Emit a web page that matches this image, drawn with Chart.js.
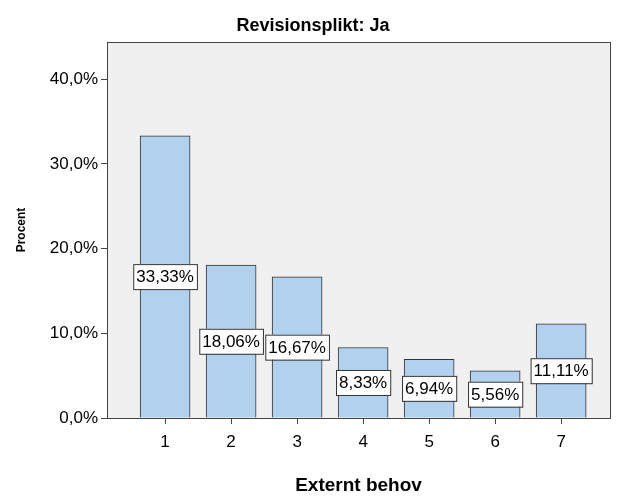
<!DOCTYPE html>
<html><head><meta charset="utf-8">
<script src="https://cdn.jsdelivr.net/npm/chart.js@4"></script>
<style>body{margin:0;background:#fff}#wrap{width:626px;height:501px}</style>
</head><body><div id="wrap"><canvas id="c"></canvas></div>
<script>
const categories = [1, 2, 3, 4, 5, 6, 7];
const percents = [33.33, 18.06, 16.67, 8.33, 6.94, 5.56, 11.11];
const yTicks = [0, 10, 20, 30, 40];

const fmt = v => v.toFixed(2).replace('.', ',') + '%';

const plotBg = {
    id: 'plotBg',
    beforeDraw(chart) {
        const { ctx, chartArea: a } = chart;
        ctx.save();
        ctx.fillStyle = '#f0f0f0';
        ctx.fillRect(a.left, a.top, a.right - a.left, a.bottom - a.top);
        ctx.restore();
    },
    afterDraw(chart) {
        const { ctx, chartArea: a } = chart;
        ctx.save();
        ctx.strokeStyle = '#444';
        ctx.lineWidth = 1;
        ctx.strokeRect(a.left + 0.5, a.top + 0.5, a.right - a.left, a.bottom - a.top);
        ctx.fillStyle = '#000';
        ctx.font = 'bold 18px Arial, "Liberation Sans", sans-serif';
        ctx.textAlign = 'center';
        ctx.textBaseline = 'middle';
        ctx.fillText('Revisionsplikt: Ja', 313, 26);
        // value labels
        ctx.font = '17px Arial, "Liberation Sans", sans-serif';
        chart.getDatasetMeta(0).data.forEach((bar, i) => {
            const txt = fmt(percents[i]);
            const w = ctx.measureText(txt).width + 6;
            const h = 25;
            const y = (bar.y + bar.base) / 2;
            ctx.fillStyle = '#fff';
            ctx.fillRect(bar.x - w / 2, y - h / 2, w, h);
            ctx.strokeStyle = '#333';
            ctx.strokeRect(bar.x - w / 2 + 0.5, y - h / 2 + 0.5, w, h);
            ctx.fillStyle = '#000';
            ctx.fillText(txt, bar.x, y + 1);
        });
        ctx.restore();
    }
};

new Chart(document.getElementById('c'), {
    type: 'bar',
    data: {
        datasets: [{
            data: categories.map((c, i) => ({ x: c, y: percents[i] })),
            backgroundColor: '#b1d1ee',
            borderColor: '#333',
            borderWidth: 1,
            barThickness: 50
        }]
    },
    options: {
        responsive: true,
        maintainAspectRatio: false,
        animation: false,
        layout: { padding: { top: 42, right: 16, left: 0, bottom: 0 } },
        plugins: { legend: { display: false }, tooltip: { enabled: false } },
        scales: {
            x: {
                type: 'linear',
                offset: false,
                min: 0.12, max: 7.74,
                afterBuildTicks: s => { s.ticks = categories.map(v => ({ value: v })); },
                afterFit: s => { s.height = 83; },
                grid: { display: true, drawOnChartArea: false, drawTicks: true, tickLength: 6, color: '#444', offset: false },
                border: { display: false },
                ticks: { color: '#000', padding: 8, font: { size: 17, family: 'Arial, "Liberation Sans"' }, callback: v => v },
                title: { display: true, text: 'Externt behov', color: '#000', font: { size: 19, weight: 'bold', family: 'Arial, "Liberation Sans"' }, padding: { top: 4 } }
            },
            y: {
                min: 0, max: 44.4,
                afterBuildTicks: s => { s.ticks = yTicks.map(v => ({ value: v })); },
                afterFit: s => { s.width = 107; },
                grid: { display: true, drawOnChartArea: false, drawTicks: true, tickLength: 6, color: '#444' },
                border: { display: false },
                ticks: { color: '#000', padding: 3, font: { size: 17, family: 'Arial, "Liberation Sans"' }, callback: v => v.toFixed(1).replace('.', ',') + '%' },
                title: { display: true, text: 'Procent', color: '#000', padding: { top: 14 }, font: { size: 12, weight: 'bold', family: 'Arial, "Liberation Sans"' } }
            }
        }
    },
    plugins: [plotBg]
});
</script></body></html>
